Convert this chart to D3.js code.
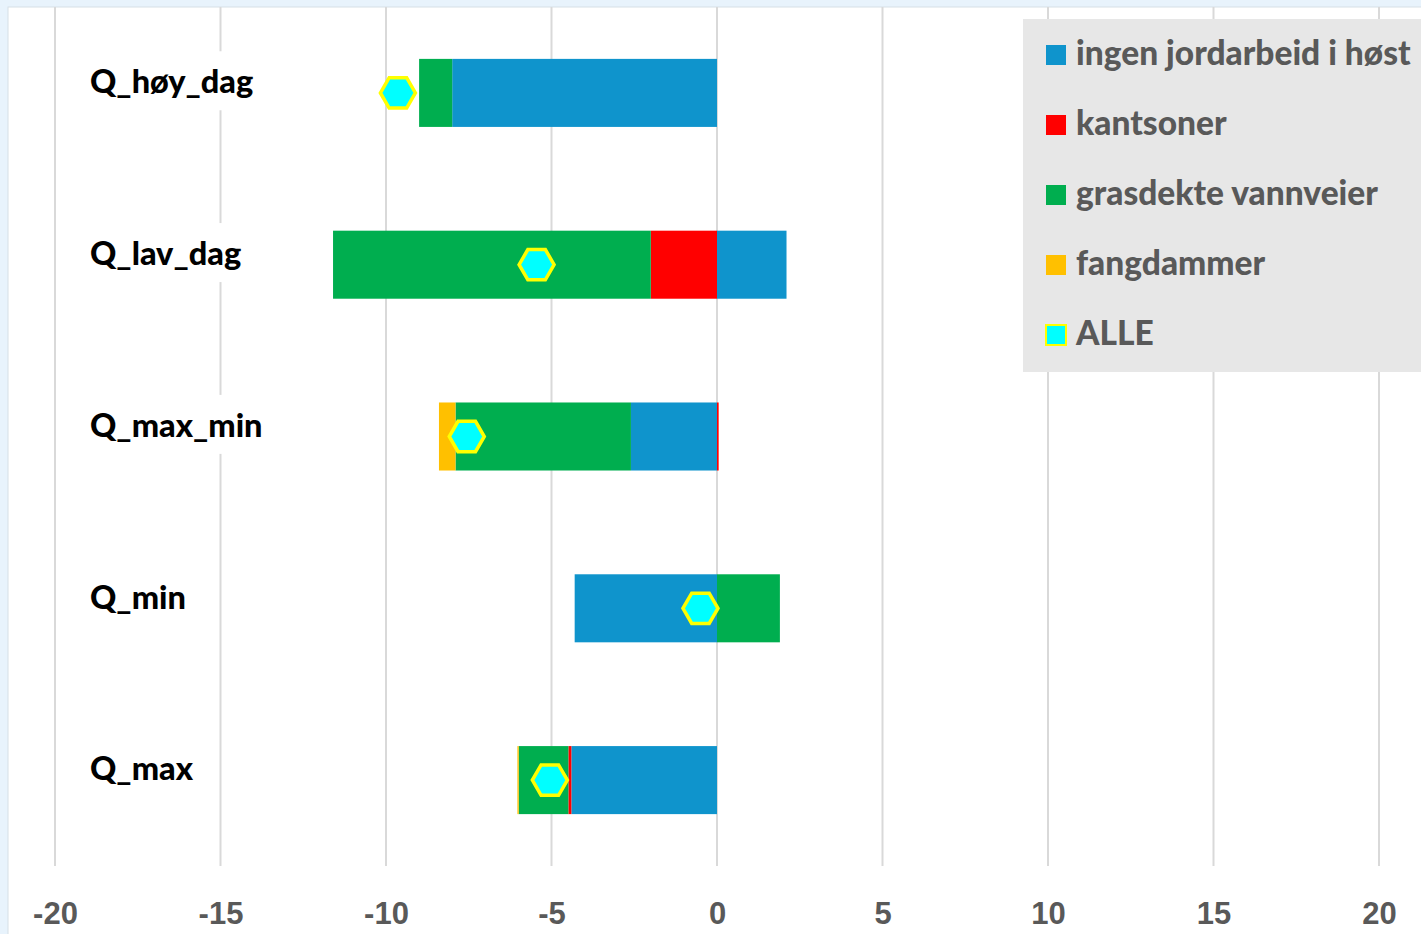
<!DOCTYPE html>
<html>
<head>
<meta charset="utf-8">
<script src="https://cdn.jsdelivr.net/npm/d3@7"></script>
<style>
  html, body { margin: 0; padding: 0; background: #e8f3fc; }
  svg { display: block; }
</style>
</head>
<body>
<svg width="1421" height="934"></svg>
<script>
// categories, top to bottom
const categories = ['Q_høy_dag', 'Q_lav_dag', 'Q_max_min', 'Q_min', 'Q_max'];

// stacked series
const ingenJordarbeid = [-8.0, 2.1, -2.6, -4.3, -4.4];
const kantsoner       = [0, -2.0, 0.05, 0, -0.09];
const grasdekte       = [-1.0, -9.6, -5.3, 1.9, -1.5];
const fangdammer      = [0, 0, -0.5, 0, -0.04];
const alle            = [-9.64, -5.45, -7.56, -0.5, -5.05];

const xTicks = [-20, -15, -10, -5, 0, 5, 10, 15, 20];

const seriesNames = ['ingen jordarbeid i høst', 'kantsoner', 'grasdekte vannveier', 'fangdammer'];
const seriesColors = ['#0f94cc', '#ff0000', '#00ae4f', '#ffc000'];

const svg = d3.select('svg');
const width = +svg.attr('width');
const height = +svg.attr('height');

// plot frame
svg.append('rect')
    .attr('x', 8).attr('y', 7)
    .attr('width', width).attr('height', height)
    .attr('fill', '#fff').attr('stroke', '#d6dfe6').attr('stroke-width', 1);

const xScale = d3.scaleLinear().domain([-20, 20]).range([55, 1379]);
const yScale = d3.scaleBand().domain(categories).range([7, 866])
    .paddingInner(0.604).paddingOuter(0.302);

// table for the stack
const table = categories.map((c, i) => ({
    cat: c,
    s0: ingenJordarbeid[i],
    s1: kantsoner[i],
    s2: grasdekte[i],
    s3: fangdammer[i]
}));
const keys = ['s0', 's1', 's2', 's3'];
const stacked = d3.stack().keys(keys).offset(d3.stackOffsetDiverging)(table);

//grid
svg.append('g').selectAll('line')
    .data(xTicks)
    .enter().append('line')
    .attr('x1', d => xScale(d)).attr('x2', d => xScale(d))
    .attr('y1', 7).attr('y2', 866)
    .attr('stroke', '#d9d9d9').attr('stroke-width', 2);

//category labels with white box behind
const labelG = svg.append('g');
categories.forEach(c => {
    const g = labelG.append('g');
    const t = g.append('text')
        .text(c)
        .attr('x', 90)
        .attr('y', yScale(c) + yScale.bandwidth() / 2 - 11)
        .attr('dy', '0.35em')
        .attr('font-family', 'Lato, "Noto Sans", sans-serif')
        .attr('font-weight', 900)
        .attr('font-size', 32.5)
        .attr('fill', '#000');
    const bb = t.node().getBBox();
    g.insert('rect', 'text')
        .attr('x', bb.x - 4).attr('y', bb.y - 10)
        .attr('width', bb.width + 8).attr('height', bb.height + 20)
        .attr('fill', '#fff');
});

//bars
svg.append('g').selectAll('g')
    .data(stacked)
    .enter().append('g')
    .attr('fill', (d, i) => seriesColors[i])
    .selectAll('rect')
    .data(d => d)
    .enter().append('rect')
    .attr('x', d => xScale(Math.min(d[0], d[1])))
    .attr('width', d => Math.abs(xScale(d[1]) - xScale(d[0])))
    .attr('y', d => yScale(d.data.cat))
    .attr('height', yScale.bandwidth());

//ALLE hexagons
const hexR = 17.5;
const hexPath = d3.line()(d3.range(6).map(k => [hexR * Math.cos(k * Math.PI / 3), hexR * Math.sin(k * Math.PI / 3)])) + 'Z';
svg.append('g').selectAll('path')
    .data(alle)
    .enter().append('path')
    .attr('d', hexPath)
    .attr('transform', (d, i) => `translate(${xScale(d)},${yScale(categories[i]) + yScale.bandwidth() / 2})`)
    .attr('fill', '#00ffff')
    .attr('stroke', '#ffff00')
    .attr('stroke-width', 3.5);

//x axis labels
const gX = svg.append('g')
    .attr('transform', 'translate(0,913)')
    .call(d3.axisBottom(xScale).tickValues(xTicks).tickFormat(d => String(d)).tickSize(0).tickPadding(0));
gX.select('.domain').remove();
gX.selectAll('text')
    .attr('dy', '0.35em')
    .style('font-family', '"Liberation Sans", Arial, sans-serif')
    .attr('font-weight', 700)
    .attr('font-size', 31)
    .attr('fill', '#595959');

//legend
const legend = svg.append('g');
legend.append('rect')
    .attr('x', 1023).attr('y', 19)
    .attr('width', 420).attr('height', 353)
    .attr('fill', '#e7e7e7');
const legendItems = seriesNames.concat(['ALLE']);
legendItems.forEach((name, i) => {
    const cy = 55 + i * 70;
    const isAlle = name === 'ALLE';
    legend.append('rect')
        .attr('x', 1046).attr('y', cy - 10)
        .attr('width', 20).attr('height', 20)
        .attr('fill', isAlle ? '#00ffff' : seriesColors[i])
        .attr('stroke', isAlle ? '#ffff00' : 'none')
        .attr('stroke-width', 2);
    legend.append('text')
        .text(name)
        .attr('x', 1076).attr('y', cy - 2)
        .attr('dy', '0.35em')
        .attr('font-family', 'Lato, "Noto Sans", sans-serif')
        .attr('font-weight', 900)
        .attr('font-size', 33.5)
        .attr('fill', '#595959');
});
</script>
</body>
</html>
